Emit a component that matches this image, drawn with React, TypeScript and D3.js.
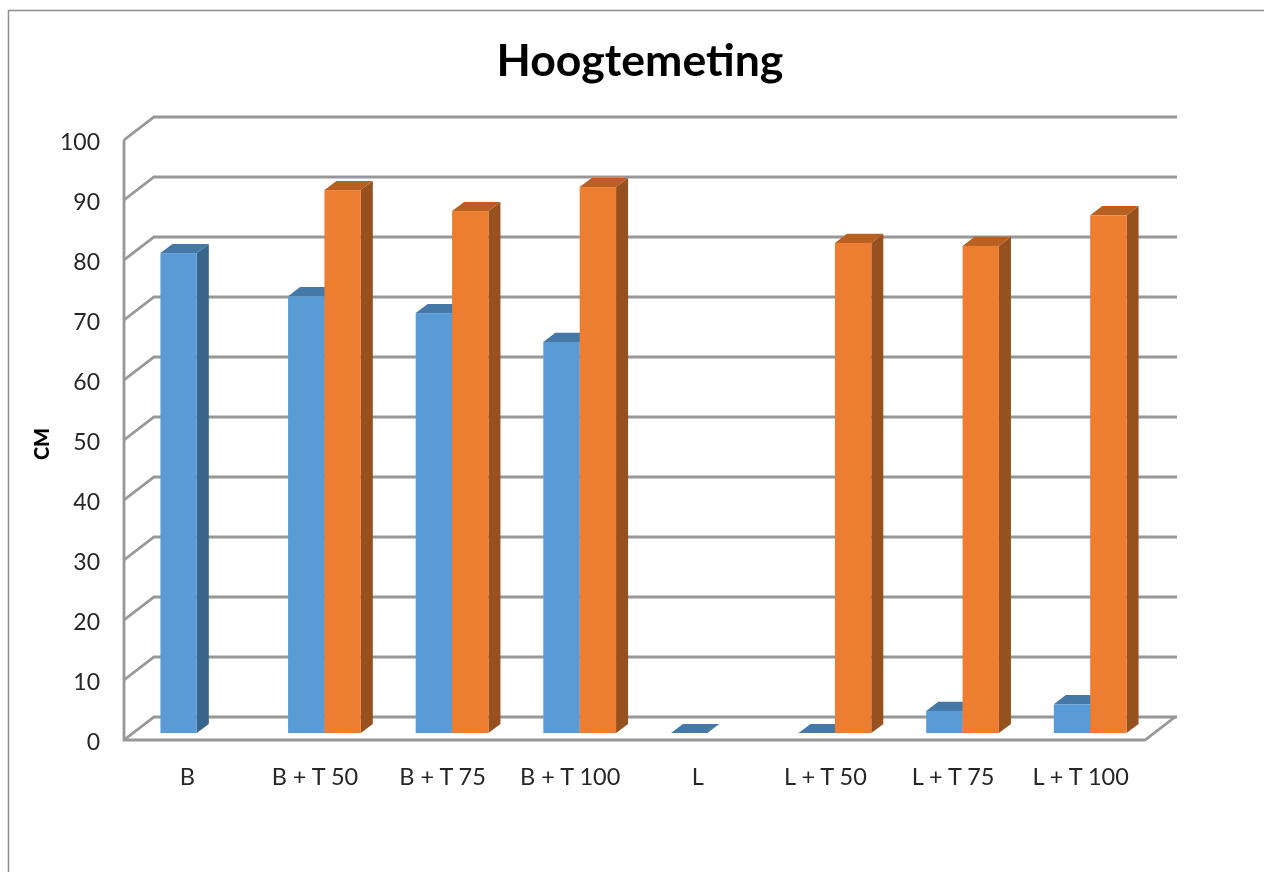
import React from 'react';
import * as d3 from 'd3';

// values, null = no bar
const categories = ['B', 'B + T 50', 'B + T 75', 'B + T 100', 'L', 'L + T 50', 'L + T 75', 'L + T 100'];
const blueValues = [80, 72.8, 70, 65.2, 0, 0, 3.7, 4.8];
const orangeValues = [null, 90.5, 87, 91, null, 81.7, 81.2, 86.3];
const yTicks = [0, 10, 20, 30, 40, 50, 60, 70, 80, 90, 100];

const font = 'Lato, "Open Sans", sans-serif';
const gridColor = '#979797';
const textColor = '#262626';

// depth of the 3d box
const depthX = 30;
const depthY = -23;

const x = d3.scaleBand<string>().domain(categories).range([124, 1145]);
const y = d3.scaleLinear().domain([0, 100]).range([740, 140]);

const blue = { front: '#5b9bd5', top: '#4578a6', side: '#38658c' };
const orange = { front: '#ed7d31', top: '#b85f22', side: '#97511f' };

function Bar({ left, width, value, colors }: { left: number; width: number; value: number; colors: typeof blue }) {
  // bars stand from 30% to 70% of the floor depth
  const x0 = left + depthX * 0.3;
  const x1 = x0 + width;
  const bottom = y(0) + depthY * 0.3;
  const top = y(value) + depthY * 0.3;
  const dx = depthX * 0.4;
  const dy = depthY * 0.4;
  const path = d3.path();
  path.moveTo(x0, top);
  path.lineTo(x0 + dx, top + dy);
  path.lineTo(x1 + dx, top + dy);
  path.lineTo(x1, top);
  path.closePath();
  const side = d3.path();
  side.moveTo(x1, top);
  side.lineTo(x1 + dx, top + dy);
  side.lineTo(x1 + dx, bottom + dy);
  side.lineTo(x1, bottom);
  side.closePath();
  return (
    <g>
      <path d={side.toString()} fill={colors.side} />
      <path d={path.toString()} fill={colors.top} />
      <rect x={x0} y={top} width={width} height={bottom - top} fill={colors.front} />
    </g>
  );
}

export default function App() {
  const barWidth = x.bandwidth() * 0.285;
  return (
    <svg
      width={1264}
      height={872}
      style={{ position: 'absolute', left: 0, top: 0, background: '#fff', filter: 'blur(0.4px)' }}
    >
      <path d="M8.5 872V10.5H1264" fill="none" stroke="#8c8c8c" strokeWidth={1.5} />

      <text x={640} y={76} textAnchor="middle" fontFamily={font} fontWeight={700} fontSize={44.6} fill="#000">
        Hoogtemeting
      </text>

      {/* walls */}
      {yTicks.map((t) => (
        <path
          key={t}
          d={`M124 ${y(t)}L${124 + depthX} ${y(t) + depthY}H1177`}
          fill="none"
          stroke={gridColor}
          strokeWidth={2.8}
        />
      ))}
      <path
        d={`M124 ${y(100)}V${y(0)}H1145L${1145 + depthX} ${y(0) + depthY}`}
        fill="none"
        stroke={gridColor}
        strokeWidth={2.8}
      />

      {categories.map((c, i) => {
        const mid = (x(c) as number) + x.bandwidth() / 2;
        const b = blueValues[i];
        const o = orangeValues[i];
        return (
          <g key={c}>
            <Bar left={mid - barWidth} width={barWidth} value={b} colors={blue} />
            {o !== null && <Bar left={mid} width={barWidth} value={o} colors={orange} />}
          </g>
        );
      })}

      {yTicks.map((t) => (
        <text key={t} x={100} y={y(t) + 10} textAnchor="end" fontFamily={font} fontSize={23} fill={textColor}>
          {t}
        </text>
      ))}

      {categories.map((c) => (
        <text
          key={c}
          x={(x(c) as number) + x.bandwidth() / 2 - 0.5}
          y={785}
          textAnchor="middle"
          fontFamily={font}
          fontSize={23.5}
          fill={textColor}
        >
          {c}
        </text>
      ))}

      <text
        transform="translate(49,444) rotate(-90)"
        textAnchor="middle"
        fontFamily={font}
        fontWeight={900}
        fontSize={20}
        fill="#000"
      >
        CM
      </text>
    </svg>
  );
}
